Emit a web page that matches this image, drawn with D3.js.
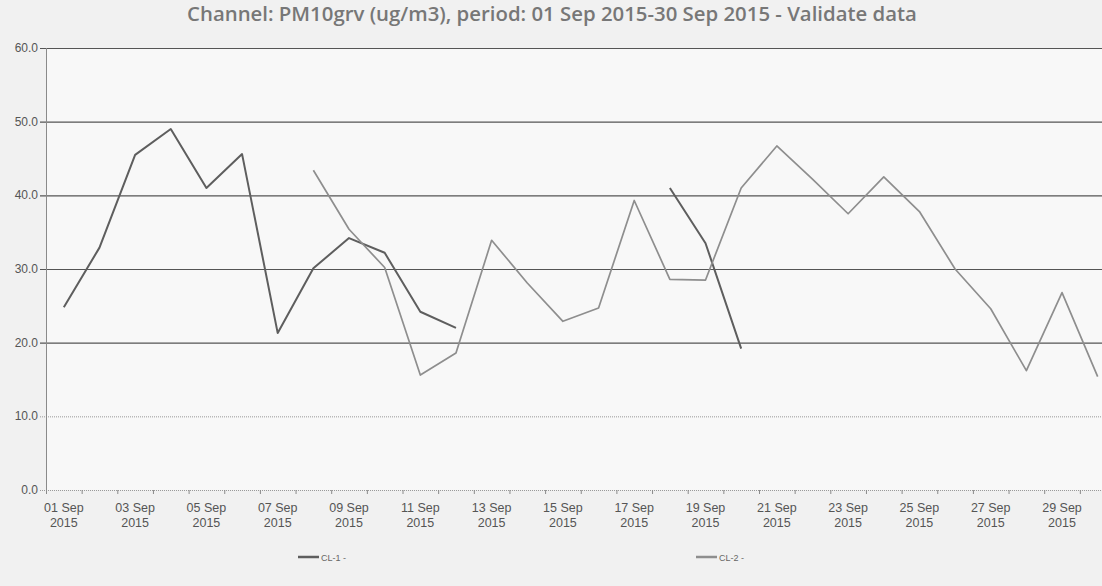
<!DOCTYPE html>
<html>
<head>
<meta charset="utf-8">
<script src="https://cdn.jsdelivr.net/npm/d3@7"></script>
<style>
  body { margin: 0; background: #f1f1f1; }
  svg { display: block; }
</style>
</head>
<body>
<div class="chart"></div>
<script>
var width = 1102,
height = 586;

// data
var days = ["01", "02", "03", "04", "05", "06", "07", "08", "09", "10",
            "11", "12", "13", "14", "15", "16", "17", "18", "19", "20",
            "21", "22", "23", "24", "25", "26", "27", "28", "29", "30"];
var cl1 = [24.8, 32.9, 45.5, 49.0, 41.0, 45.6, 21.3, 30.1, 34.2, 32.2,
           24.2, 22.0, null, null, null, null, null, 41.0, 33.5, 19.2,
           null, null, null, null, null, null, null, null, null, null];
var cl2 = [null, null, null, null, null, null, null, 43.4, 35.4, 30.2,
           15.6, 18.6, 33.9, 28.1, 22.9, 24.7, 39.3, 28.6, 28.5, 41.0,
           46.7, 42.2, 37.5, 42.5, 37.8, 30.0, 24.6, 16.2, 26.8, 15.4];
var yTicks = [0, 10, 20, 30, 40, 50, 60];
var seriesNames = ["CL-1 -", "CL-2 -"];
var seriesColors = ["#5e5e5e", "#8e8e8e"];
var title = "Channel: PM10grv (ug/m3), period: 01 Sep 2015-30 Sep 2015 - Validate data";

var plotLeft = 46, plotTop = 48, plotBottom = 490, step = 35.65;

var svg = d3.select(".chart").append("svg")
  .attr("width", width)
  .attr("height", height);

svg.append("rect").attr("width", width).attr("height", height).attr("fill", "#f1f1f1");

var x = d3.scaleBand()
  .domain(days)
  .range([plotLeft, plotLeft + step * days.length])
  .padding(0);
var y = d3.scaleLinear().domain([0, 60]).range([plotBottom, plotTop]);

// plot area
svg.append("rect")
  .attr("x", plotLeft).attr("y", plotTop)
  .attr("width", width - plotLeft).attr("height", plotBottom - plotTop)
  .attr("fill", "#f8f8f8");

// horizontal gridlines
svg.append("g")
  .selectAll("line")
  .data(yTicks)
  .enter().append("line")
  .attr("x1", plotLeft - 6)
  .attr("x2", width)
  .attr("y1", function(d){return y(d) + 0.5;})
  .attr("y2", function(d){return y(d) + 0.5;})
  .attr("stroke", function(d){return d >= 20 ? "#555" : "#999";})
  .attr("stroke-width", function(d){return d >= 20 ? 1.2 : 1;})
  .attr("stroke-dasharray", function(d){return d >= 20 ? null : "1,1";});

// y axis line
svg.append("line")
  .attr("x1", plotLeft + 0.5).attr("x2", plotLeft + 0.5)
  .attr("y1", plotTop).attr("y2", plotBottom)
  .attr("stroke", "#8a8a8a");

// y labels
svg.append("g")
  .selectAll("text")
  .data(yTicks)
  .enter().append("text")
  .attr("x", 38)
  .attr("y", function(d){return y(d) + 4;})
  .attr("text-anchor", "end")
  .attr("font-family", "Liberation Sans, Arial, sans-serif")
  .attr("font-size", 12)
  .attr("fill", "#555")
  .text(function(d){return d.toFixed(1);});

// x ticks at band edges
svg.append("g")
  .selectAll("line")
  .data(days)
  .enter().append("line")
  .attr("x1", function(d){return x(d) + 0.5;})
  .attr("x2", function(d){return x(d) + 0.5;})
  .attr("y1", plotBottom)
  .attr("y2", plotBottom + 4)
  .attr("stroke", "#8a8a8a");

// x labels (every second day)
var xl = svg.append("g")
  .selectAll("text")
  .data(days.filter(function(d, i){return i % 2 === 0;}))
  .enter().append("text")
  .attr("text-anchor", "middle")
  .attr("font-family", "Liberation Sans, Arial, sans-serif")
  .attr("font-size", 12.5)
  .attr("fill", "#555");
xl.append("tspan")
  .attr("x", function(d){return x(d) + x.bandwidth() / 2;})
  .attr("y", 512)
  .text(function(d){return d + " Sep";});
xl.append("tspan")
  .attr("x", function(d){return x(d) + x.bandwidth() / 2;})
  .attr("y", 527)
  .text("2015");

// lines
var line = d3.line()
  .defined(function(d){return d.v !== null;})
  .x(function(d){return x(d.day) + x.bandwidth() / 2;})
  .y(function(d){return y(d.v);});

[cl1, cl2].forEach(function(s, k){
  var pts = days.map(function(d, i){return {day: d, v: s[i]};});
  svg.append("path")
    .datum(pts)
    .attr("fill", "none")
    .attr("stroke", seriesColors[k])
    .attr("stroke-width", k === 0 ? 2 : 1.7)
    .attr("stroke-linejoin", "round")
    .attr("d", line);
});

// title
var t = svg.append("text")
  .attr("x", 552)
  .attr("y", 21)
  .attr("text-anchor", "middle")
  .attr("font-family", "Open Sans, sans-serif")
  .attr("font-weight", 600)
  .attr("font-size", 14)
  .attr("fill", "#777")
  .text(title);
var tw = t.node().getComputedTextLength();
t.attr("font-size", 14 * 730 / tw);

// legend
var legendX = [298, 696];
seriesNames.forEach(function(name, k){
  svg.append("line")
    .attr("x1", legendX[k]).attr("x2", legendX[k] + 21)
    .attr("y1", 557).attr("y2", 557)
    .attr("stroke", seriesColors[k])
    .attr("stroke-width", 2.5);
  svg.append("text")
    .attr("x", legendX[k] + 23)
    .attr("y", 561)
    .attr("font-family", "Liberation Sans, Arial, sans-serif")
    .attr("font-size", 9)
    .attr("fill", "#666")
    .text(name);
});
</script>
</body>
</html>
